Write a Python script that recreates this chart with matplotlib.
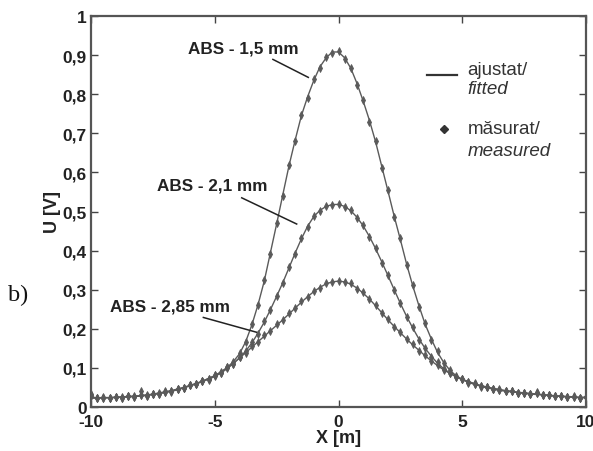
import numpy as np
import matplotlib
matplotlib.use("Agg")
import matplotlib.pyplot as plt

# ---------------- data ----------------
x_pos = [-10 + 0.25 * i for i in range(81)]

fit_15 = [.025, .024, .024, .024, .025, .025, .026, .027, .028, .030, .032, .035, .038, .041, .045, .050,
          .055, .060, .066, .073, .080, .090, .101, .116, .136, .167, .210, .262, .322, .395, .468, .543,
          .617, .683, .745, .793, .835, .870, .893, .908, .908, .893, .866, .827, .782, .733, .678, .615,
          .552, .488, .428, .366, .310, .259, .212, .174, .140, .114, .094, .080, .071, .065, .060, .055,
          .051, .048, .045, .042, .040, .038, .036, .035, .033, .032, .030, .029, .028, .027, .026, .025, .025]
fit_21 = [.023, .023, .023, .024, .024, .025, .026, .027, .028, .030, .032, .034, .037, .040, .044, .049,
          .054, .059, .065, .071, .078, .087, .098, .111, .126, .143, .164, .189, .217, .249, .283, .318,
          .356, .394, .430, .462, .487, .503, .513, .518, .518, .513, .502, .485, .463, .436, .405, .371,
          .336, .300, .265, .232, .202, .174, .150, .130, .112, .098, .087, .078, .070, .063, .058, .053,
          .049, .046, .043, .041, .039, .037, .035, .034, .033, .031, .030, .028, .027, .026, .025, .024, .024]
fit_285 = [.023, .023, .024, .024, .025, .026, .027, .028, .029, .031, .033, .036, .039, .042, .046, .050,
           .055, .060, .066, .073, .080, .089, .100, .112, .125, .139, .153, .167, .181, .195, .209, .223,
           .238, .253, .268, .282, .295, .306, .315, .320, .322, .320, .314, .304, .291, .276, .259, .241,
           .223, .206, .190, .174, .159, .145, .131, .118, .106, .095, .086, .077, .070, .064, .058, .054,
           .050, .046, .043, .041, .039, .037, .035, .033, .032, .031, .029, .028, .027, .026, .025, .024, .024]

meas_15 = [.030, .022, .024, .023, .026, .024, .027, .026, .040, .029, .033, .034, .039, .040, .046, .049,
           .056, .059, .067, .072, .081, .089, .103, .115, .138, .165, .212, .260, .325, .392, .470, .540,
           .620, .680, .748, .790, .838, .868, .895, .905, .910, .890, .868, .824, .785, .730, .681, .612,
           .555, .485, .431, .363, .312, .256, .214, .172, .142, .112, .095, .079, .072, .064, .061, .054,
           .052, .047, .046, .041, .041, .037, .037, .034, .038, .031, .031, .028, .029, .026, .027, .024, .026]
meas_21 = [.028, .022, .024, .023, .025, .024, .027, .026, .030, .029, .033, .033, .038, .039, .045, .048,
           .055, .058, .066, .070, .079, .086, .100, .110, .128, .142, .166, .187, .219, .247, .285, .316,
           .358, .392, .433, .460, .489, .501, .515, .516, .520, .511, .504, .483, .465, .434, .407, .369,
           .338, .298, .267, .230, .204, .172, .152, .128, .114, .097, .088, .077, .071, .062, .059, .052,
           .050, .045, .044, .040, .040, .036, .036, .033, .037, .030, .031, .027, .028, .025, .026, .023, .025]
meas_285 = [.033, .022, .025, .023, .026, .025, .028, .027, .031, .030, .034, .035, .040, .041, .047, .049,
            .056, .059, .067, .072, .081, .088, .102, .111, .127, .138, .155, .166, .183, .194, .211, .222,
            .240, .252, .270, .281, .297, .305, .317, .319, .323, .319, .316, .303, .293, .275, .261, .240,
            .225, .205, .192, .173, .161, .144, .133, .117, .108, .094, .087, .076, .071, .063, .059, .053,
            .051, .045, .044, .040, .040, .036, .036, .032, .036, .030, .030, .027, .028, .025, .026, .023, .025]

y_ticks = [0.0, 0.1, 0.2, 0.3, 0.4, 0.5, 0.6, 0.7, 0.8, 0.9, 1.0]
y_tick_labels = ["0", "0,1", "0,2", "0,3", "0,4", "0,5", "0,6", "0,7", "0,8", "0,9", "1"]
x_ticks = [-10, -5, 0, 5, 10]
x_tick_labels = ["-10", "-5", "0", "5", "10"]

# ---------------- figure ----------------
gray = "#5a5a5a"
txt = "#222222"
fig = plt.figure(figsize=(5.93, 4.52), dpi=100)
ax = fig.add_axes([91 / 593, 1 - 408 / 452, 495 / 593, 391 / 452])

for fit, meas in [(fit_15, meas_15), (fit_21, meas_21), (fit_285, meas_285)]:
    ax.plot(x_pos, fit, color=gray, lw=1.0, zorder=2)
    ax.plot(x_pos, meas, linestyle="none", marker="d", markersize=4.0,
            color=gray, markeredgewidth=0.6, zorder=3)

ax.set_xlim(-10, 10)
ax.set_ylim(0, 1)
ax.set_xticks(x_ticks)
ax.set_xticklabels(x_tick_labels)
ax.set_yticks(y_ticks)
ax.set_yticklabels(y_tick_labels)
ax.tick_params(direction="in", top=True, right=True, length=5, width=1, color="#444444",
               labelcolor=txt, labelsize=12.5)
ax.tick_params(axis="x", pad=5)
ax.tick_params(axis="y", pad=3)
for lab in ax.get_xticklabels() + ax.get_yticklabels():
    lab.set_fontfamily("Liberation Sans")
    lab.set_fontweight("bold")
for sp in ax.spines.values():
    sp.set_color("#555555")
    sp.set_linewidth(1.6)

ax.set_xlabel("X [m]", fontsize=13, fontweight="bold", family="Liberation Sans", color=txt, labelpad=0)
ax.set_ylabel("U [V]", fontsize=13, fontweight="bold", family="Liberation Sans", color=txt, labelpad=1)

# annotations: text + leader lines
ann_kw = dict(fontsize=12.3, fontweight="bold", family="Liberation Sans", color=txt,
              va="center", ha="left")
ax.text(-6.08, 0.918, "ABS - 1,5 mm", **ann_kw)
ax.plot([-2.65, -1.22], [0.889, 0.843], color="#222222", lw=1.1)
ax.text(-7.33, 0.568, "ABS - 2,1 mm", **ann_kw)
ax.plot([-3.91, -1.69], [0.535, 0.468], color="#222222", lw=1.1)
ax.text(-9.23, 0.258, "ABS - 2,85 mm", **ann_kw)
ax.plot([-5.46, -3.30], [0.229, 0.191], color="#222222", lw=1.1)

# legend drawn manually
ax.plot([3.56, 4.77], [0.849, 0.849], color="#333333", lw=1.6)
ax.plot([4.26], [0.711], linestyle="none", marker="D", markersize=4.0, color="#333333")
leg_kw = dict(fontsize=13.5, family="Liberation Sans", color="#333333", va="center", ha="left")
ax.text(5.22, 0.862, "ajustat/", **leg_kw)
ax.text(5.22, 0.815, "fitted", style="italic", **leg_kw)
ax.text(5.22, 0.712, "măsurat/", **leg_kw)
ax.text(5.22, 0.655, "measured", style="italic", **leg_kw)

fig.text(8 / 593, 1 - 295 / 452, "b)", fontsize=17.5, family="Liberation Serif",
         color="#111111", va="center", ha="left")

fig.savefig("out.png", dpi=100)
